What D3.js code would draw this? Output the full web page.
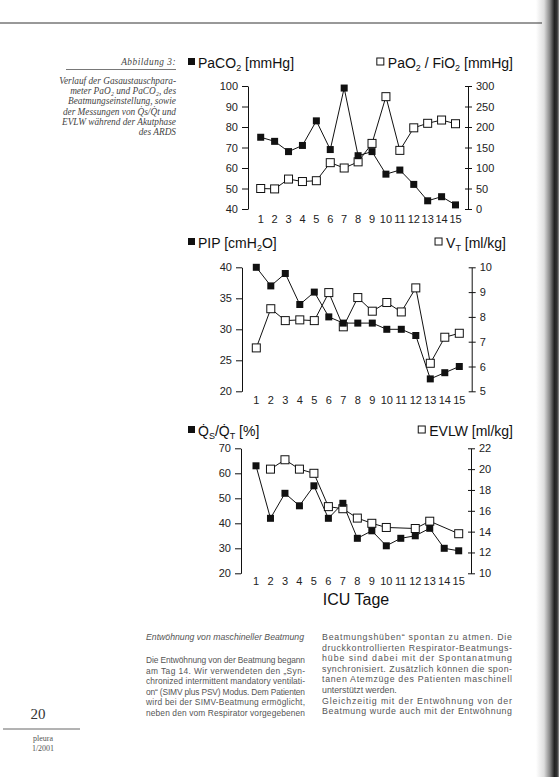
<!DOCTYPE html>
<html><head><meta charset="utf-8">
<script src="https://cdn.jsdelivr.net/npm/d3@7"></script>
<style>body{margin:0;background:#fff}svg{display:block}</style>
</head><body>
<script>
// ---------- data ----------
const days = [1,2,3,4,5,6,7,8,9,10,11,12,13,14,15];
const paco2    = [75,73,68,71,83,69,99,66,68,57,59,52,44,46,42];
const pao2fio2 = [50,49,73,67,69,113,100,115,160,274,143,198,209,217,208];
const pip      = [40,37,39,34,36,32,31,31,31,30,30,29,22,23,24];
const vt       = [6.75,8.33,7.85,7.88,7.85,8.98,7.6,8.78,8.23,8.58,8.2,9.17,6.13,7.18,7.34];
const qsqt     = [63,42,52,47,55,42,48,34,37,31,34,35,38,30,29];
const evlw     = [null,20,20.9,20,19.6,16.4,16.2,15.3,14.8,14.4,null,14.3,15.0,null,13.8];

const paco2Ticks = [40,50,60,70,80,90,100];
const pao2Ticks  = [0,50,100,150,200,250,300];
const pipTicks   = [20,25,30,35,40];
const vtTicks    = [5,6,7,8,9,10];
const qsTicks    = [20,30,40,50,60,70];
const evlwTicks  = [10,12,14,16,18,20,22];

// ---------- page ----------
const svg = d3.select('body').append('svg').attr('width',559).attr('height',777);
const defs = svg.append('defs');
const grad = defs.append('linearGradient').attr('id','edge').attr('x1','0').attr('x2','1');
[[0,'#fff'],[0.35,'#ddd'],[0.6,'#888'],[0.8,'#222'],[0.92,'#333'],[1,'#999']].forEach(s=>
  grad.append('stop').attr('offset',s[0]).attr('stop-color',s[1]));
svg.append('rect').attr('x',536).attr('y',0).attr('width',23).attr('height',777).attr('fill','url(#edge)');
svg.append('line').attr('x1',0).attr('x2',542).attr('y1',23).attr('y2',23).attr('stroke','#333').attr('stroke-width',1);

const FONT = "'Liberation Sans', Arial, sans-serif";
const fmt = d3.format('d');

function legendText(g, x, y, anchor, parts){
  const t = g.append('text').attr('x',x).attr('y',y).attr('text-anchor',anchor)
    .attr('font-family',FONT).attr('font-size',14).attr('fill','#111');
  parts.forEach(p=>{
    const s = t.append('tspan').text(p.t);
    if(p.sub){ s.attr('font-size',9).attr('dy',3); }
    else if(p.back){ s.attr('dy',-3); }
  });
  return t;
}

function panel(cfg){
  const g = svg.append('g');
  const x  = d3.scaleLinear().domain([1,15]).range([cfg.x1,cfg.x15]);
  const yL = d3.scaleLinear().domain([cfg.lTicks[0],cfg.lTicks[cfg.lTicks.length-1]]).range([cfg.bottom,cfg.top]);
  const yR = d3.scaleLinear().domain([cfg.rTicks[0],cfg.rTicks[cfg.rTicks.length-1]]).range([cfg.bottom,cfg.top]);

  const la = g.append('g').attr('transform',`translate(${cfg.left},0)`)
    .call(d3.axisLeft(yL).tickValues(cfg.lTicks).tickFormat(fmt).tickSize(6).tickSizeOuter(0).tickPadding(4));
  const ra = g.append('g').attr('transform',`translate(${cfg.right},0)`)
    .call(d3.axisRight(yR).tickValues(cfg.rTicks).tickFormat(fmt).tickSize(4).tickSizeOuter(0).tickPadding(4));
  ra.selectAll('.tick line').attr('x1',-3);
  [la,ra].forEach(a=>{
    a.select('.domain').attr('stroke','#111');
    a.selectAll('.tick line').attr('stroke','#111');
    a.selectAll('text').attr('font-family',FONT).attr('font-size',11).attr('fill','#222');
  });

  g.append('g').selectAll('text').data(days).join('text')
    .attr('x',d=>x(d)).attr('y',cfg.xLabelY).attr('text-anchor','middle')
    .attr('font-family',FONT).attr('font-size',11).attr('fill','#222').text(d=>d);

  const openPts  = days.map((d,i)=>({d,v:cfg.open[i]})).filter(p=>p.v!=null);
  const filledPts= days.map((d,i)=>({d,v:cfg.filled[i]})).filter(p=>p.v!=null);

  g.append('path').datum(openPts).attr('fill','none').attr('stroke','#111').attr('stroke-width',1)
    .attr('d',d3.line().x(p=>x(p.d)).y(p=>yR(p.v)));
  g.append('path').datum(filledPts).attr('fill','none').attr('stroke','#111').attr('stroke-width',1)
    .attr('d',d3.line().x(p=>x(p.d)).y(p=>yL(p.v)));
  g.append('g').selectAll('rect').data(openPts).join('rect')
    .attr('x',p=>x(p.d)-4).attr('y',p=>yR(p.v)-4).attr('width',8).attr('height',8)
    .attr('fill','#fff').attr('stroke','#111').attr('stroke-width',1);
  g.append('g').selectAll('rect').data(filledPts).join('rect')
    .attr('x',p=>x(p.d)-3.5).attr('y',p=>yL(p.v)-3.5).attr('width',7).attr('height',7)
    .attr('fill','#111');

  // legends
  g.append('rect').attr('x',188).attr('y',cfg.legendY-10).attr('width',7).attr('height',7).attr('fill','#111');
  legendText(g,198,cfg.legendY,'start',cfg.leftLegend);
  const rt = legendText(g,cfg.rLegendX,cfg.legendY,'end',cfg.rightLegend);
  const bb = rt.node().getBBox();
  g.append('rect').attr('x',bb.x-11).attr('y',cfg.legendY-10).attr('width',7).attr('height',7)
    .attr('fill','#fff').attr('stroke','#111').attr('stroke-width',1);
}

panel({left:248,right:468,top:86,bottom:209,x1:260.7,x15:455.5,xLabelY:223,legendY:68,rLegendX:513,
  lTicks:paco2Ticks,rTicks:pao2Ticks,filled:paco2,open:pao2fio2,
  leftLegend:[{t:'PaCO'},{t:'2',sub:true},{t:' [mmHg]',back:true}],
  rightLegend:[{t:'PaO'},{t:'2',sub:true},{t:' / FiO',back:true},{t:'2',sub:true},{t:' [mmHg]',back:true}]});

panel({left:242,right:471.7,top:267.3,bottom:391.3,x1:256.3,x15:459.3,xLabelY:404,legendY:248,rLegendX:506,
  lTicks:pipTicks,rTicks:vtTicks,filled:pip,open:vt,
  leftLegend:[{t:'PIP [cmH'},{t:'2',sub:true},{t:'O]',back:true}],
  rightLegend:[{t:'V'},{t:'T',sub:true},{t:' [ml/kg]',back:true}]});

panel({left:241,right:471,top:448.3,bottom:573.3,x1:256,x15:458.7,xLabelY:585,legendY:436,rLegendX:513,
  lTicks:qsTicks,rTicks:evlwTicks,filled:qsqt,open:evlw,
  leftLegend:[{t:'Q\u0307'},{t:'S',sub:true},{t:'/Q\u0307',back:true},{t:'T',sub:true},{t:' [%]',back:true}],
  rightLegend:[{t:'EVLW [ml/kg]'}]});
svg.append('text').attr('x',356).attr('y',605).attr('text-anchor','middle')
  .attr('font-family',FONT).attr('font-size',16).attr('fill','#111').text('ICU Tage');

// ---------- caption ----------
const SERIF = "'Liberation Serif', 'DejaVu Serif', serif";
const cap = svg.append('g').attr('font-family',SERIF).attr('font-style','italic').attr('fill','#444')
  .attr('font-size',9.3).attr('text-anchor','end');
cap.append('text').attr('x',176).attr('y',65).attr('letter-spacing',0.5).text('Abbildung 3:');
svg.append('line').attr('x1',66).attr('x2',176).attr('y1',69.5).attr('y2',69.5).attr('stroke','#555').attr('stroke-width',0.8);
const capLines = ['Verlauf der Gasaustauschpara-','meter PaO\u2082 und PaCO\u2082, des','Beatmungseinstellung, sowie',
  'der Messungen von Q\u0307s/Q\u0307t und','EVLW während der Akutphase','des ARDS'];
capLines.forEach((l,i)=>cap.append('text').attr('x',176).attr('y',84+i*10.2).text(l));

// ---------- body text ----------
const body = svg.append('g').attr('font-family',FONT).attr('fill','#555').attr('font-size',8.4);
body.append('text').attr('x',146).attr('y',640).attr('font-style','italic').attr('textLength',158)
  .attr('lengthAdjust','spacingAndGlyphs').text('Entwöhnung von maschineller Beatmung');
const leftCol = ['Die Entwöhnung von der Beatmung begann','am Tag 14. Wir verwendeten den „Syn-',
  'chronized intermittent mandatory ventilati-','on“ (SIMV plus PSV) Modus. Dem Patienten',
  'wird bei der SIMV-Beatmung ermöglicht,','neben den vom Respirator vorgegebenen'];
leftCol.forEach((l,i)=>body.append('text').attr('x',146).attr('y',663+i*10.6)
  .attr('textLength',159).attr('lengthAdjust','spacing').text(l));
const rightCol = ['Beatmungshüben“ spontan zu atmen. Die','druckkontrollierten Respirator-Beatmungs-',
  'hübe sind dabei mit der Spontanatmung','synchronisiert. Zusätzlich können die spon-',
  'tanen Atemzüge des Patienten maschinell','unterstützt werden.',
  'Gleichzeitig mit der Entwöhnung von der','Beatmung wurde auch mit der Entwöhnung'];
rightCol.forEach((l,i)=>{
  const t = body.append('text').attr('x',322).attr('y',640+i*10.6).attr('font-size',8.8).text(l);
  if(i!==5) t.attr('textLength',190).attr('lengthAdjust','spacing');
});

// ---------- folio ----------
svg.append('text').attr('x',38).attr('y',719).attr('text-anchor','middle').attr('font-family',SERIF)
  .attr('font-size',15).attr('fill','#333').text('20');
svg.append('line').attr('x1',3).attr('x2',80).attr('y1',729).attr('y2',729).attr('stroke','#666').attr('stroke-width',1);
svg.append('text').attr('x',43).attr('y',741).attr('text-anchor','middle').attr('font-family',SERIF)
  .attr('font-size',8).attr('fill','#555').text('pleura');
svg.append('text').attr('x',43).attr('y',751).attr('text-anchor','middle').attr('font-family',SERIF)
  .attr('font-size',8).attr('fill','#555').text('1/2001');
</script>
</body></html>
